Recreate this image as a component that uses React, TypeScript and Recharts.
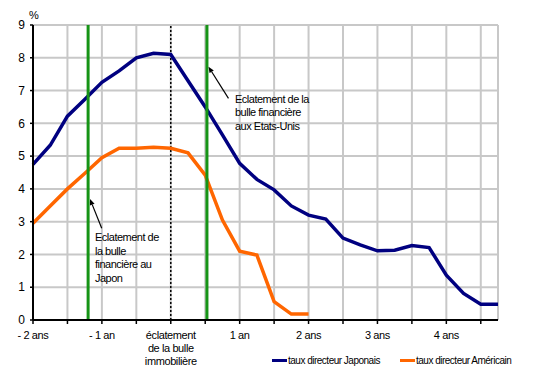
import React from "react"
import { LineChart, Line, XAxis, YAxis, CartesianGrid, ReferenceLine } from "recharts"

// quarters from -2 years (0) to +4.75 years (27)
const quarters = [0, 1, 2, 3, 4, 5, 6, 7, 8, 9, 10, 11, 12, 13, 14, 15, 16, 17, 18, 19, 20, 21, 22, 23, 24, 25, 26, 27]
const tauxJapon = [4.75, 5.33, 6.22, 6.73, 7.25, 7.6, 8.0, 8.14, 8.1, 7.3, 6.5, 5.65, 4.78, 4.29, 3.97, 3.48, 3.2, 3.08, 2.5, 2.29, 2.11, 2.13, 2.27, 2.21, 1.37, 0.81, 0.48, 0.48]
const tauxUSA = [2.95, 3.48, 4.0, 4.47, 4.95, 5.24, 5.24, 5.27, 5.24, 5.1, 4.42, 3.05, 2.1, 1.98, 0.56, 0.18, 0.18]

const xTicks = [0, 2, 4, 6, 8, 10, 12, 14, 16, 18, 20, 22, 24, 26]
const xLabels: Record<number, string[]> = {
  0: ["- 2 ans"],
  4: ["- 1 an"],
  8: ["éclatement", "de la bulle", "immobilière"],
  12: ["1 an"],
  16: ["2 ans"],
  20: ["3 ans"],
  24: ["4 ans"],
}
const yTicks = [0, 1, 2, 3, 4, 5, 6, 7, 8, 9]

// events (in quarters)
const krachJapon = 3.2
const krachUSA = 10.1
const eclatementImmo = 8

const data = quarters.map((q, i) => ({
  q,
  jp: tauxJapon[i],
  us: i < tauxUSA.length ? tauxUSA[i] : null,
}))

const FONT = "'Liberation Sans', Arial, sans-serif"
const NAVY = "#000080"
const ORANGE = "#FF6600"
const GREEN = "#169416"

function XTick(props: any) {
  const { x, y, payload } = props
  const lines = xLabels[payload.value]
  if (!lines) return null
  return (
    <text x={x} y={y} textAnchor="middle" fontFamily={FONT} fontSize={11} letterSpacing={-0.4} fill="#000">
      {lines.map((l, i) => (
        <tspan key={i} x={x} dy={i === 0 ? 15 : 13}>{l}</tspan>
      ))}
    </text>
  )
}

function Arrow(props: any) {
  const { x1, y1, x2, y2 } = props
  // arrow head at the second point
  const ang = Math.atan2(y2 - y1, x2 - x1)
  const len = 6
  const w = 2.5
  const bx = x2 - len * Math.cos(ang)
  const by = y2 - len * Math.sin(ang)
  const px = -Math.sin(ang) * w
  const py = Math.cos(ang) * w
  return (
    <g>
      <line x1={x1} y1={y1} x2={bx} y2={by} stroke="#000" strokeWidth={1.2} />
      <polygon points={`${x2},${y2} ${bx + px},${by + py} ${bx - px},${by - py}`} fill="#000" />
    </g>
  )
}

export default function App() {
  return (
    <div style={{ position: "absolute", left: 0, top: 0, width: 533, height: 367, background: "#fff", fontFamily: FONT }}>
      <LineChart width={533} height={367} data={data} margin={{ top: 25, right: 35, left: 0, bottom: 0 }}>
        <CartesianGrid stroke="#c8c8c8" strokeWidth={2} />
        <XAxis
          type="number"
          dataKey="q"
          domain={[0, 27]}
          ticks={xTicks}
          interval={0}
          height={47}
          tick={<XTick />}
          tickSize={4}
          tickMargin={0}
          axisLine={{ stroke: "#000", strokeWidth: 2 }}
          tickLine={{ stroke: "#000", strokeWidth: 1.5 }}
        />
        <YAxis
          type="number"
          domain={[0, 9]}
          ticks={yTicks}
          interval={0}
          width={33}
          tickSize={3}
          tickMargin={5}
          tick={{ fontSize: 12, fill: "#000", fontFamily: FONT }}
          axisLine={{ stroke: "#000", strokeWidth: 2 }}
          tickLine={{ stroke: "#000", strokeWidth: 1.5 }}
        />
        <ReferenceLine x={27} stroke="#c8c8c8" strokeWidth={2} />
        <ReferenceLine x={eclatementImmo} stroke="#000" strokeWidth={1.5} strokeDasharray="2 2" />
        <Line type="linear" dataKey="jp" stroke={NAVY} strokeWidth={3.5} dot={false} isAnimationActive={false} />
        <Line type="linear" dataKey="us" stroke={ORANGE} strokeWidth={3.5} dot={false} connectNulls={false} isAnimationActive={false} />
        <ReferenceLine x={krachJapon} stroke={GREEN} strokeWidth={3} />
        <ReferenceLine x={krachUSA} stroke={GREEN} strokeWidth={3} />
        <ReferenceLine segment={[{ x: 11.35, y: 6.76 }, { x: 10.19, y: 7.73 }]} shape={<Arrow />} />
        <ReferenceLine segment={[{ x: 3.99, y: 2.8 }, { x: 3.31, y: 3.69 }]} shape={<Arrow />} />
      </LineChart>

      <div style={{ position: "absolute", left: 29, top: 9, fontSize: 11 }}>%</div>

      <div style={{ position: "absolute", left: 235, top: 93, fontSize: 11, lineHeight: "13.4px", letterSpacing: -0.5 }}>
        Eclatement de la<br />bulle financière<br />aux Etats-Unis
      </div>
      <div style={{ position: "absolute", left: 95, top: 231, fontSize: 11, lineHeight: "13.7px", letterSpacing: -0.5 }}>
        Eclatement de<br />la bulle<br />financière au<br />Japon
      </div>

      <div style={{ position: "absolute", left: 272, top: 353, fontSize: 10, letterSpacing: -0.5, display: "flex", alignItems: "center", whiteSpace: "nowrap", height: 14 }}>
        <div style={{ width: 15, height: 3, background: NAVY, marginRight: 1 }} />
        <span>taux directeur Japonais</span>
      </div>
      <div style={{ position: "absolute", left: 400, top: 353, fontSize: 10, letterSpacing: -0.5, display: "flex", alignItems: "center", whiteSpace: "nowrap", height: 14 }}>
        <div style={{ width: 15, height: 3, background: ORANGE, marginRight: 1 }} />
        <span>taux directeur Américain</span>
      </div>
    </div>
  )
}
